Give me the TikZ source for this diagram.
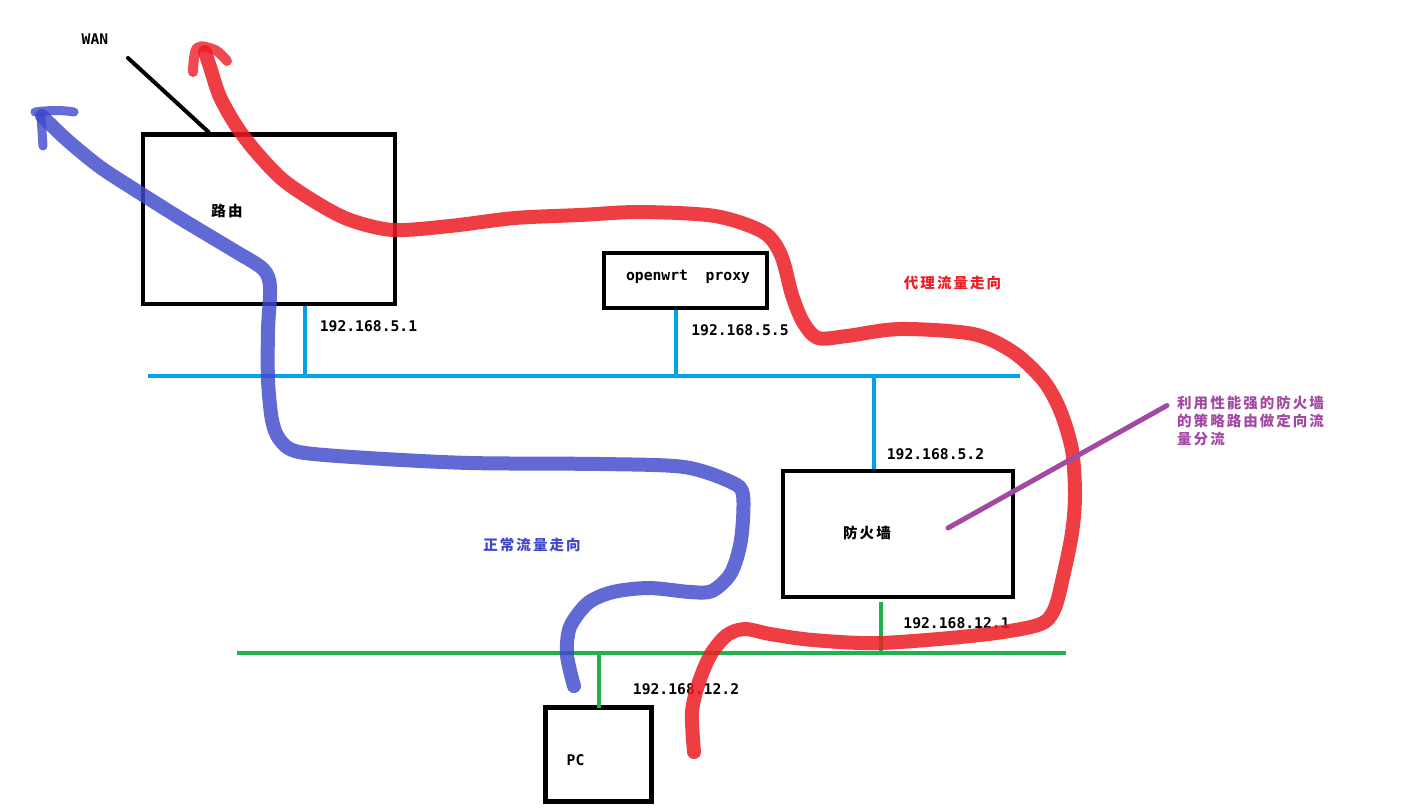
\documentclass[tikz,border=0pt]{standalone}
\usepackage{fontspec}
\setmonofont{DejaVu Sans Mono}
\newfontfamily\cjk[LetterSpace=14]{Noto Sans CJK SC}
\definecolor{lanblue}{RGB}{0,162,232}
\definecolor{langreen}{RGB}{34,177,76}
\definecolor{flowred}{RGB}{237,28,36}
\definecolor{flowblue}{RGB}{63,72,204}
\definecolor{notepurple}{RGB}{163,73,164}
\tikzset{
  box/.style={draw=black, line width=4.5pt, inner sep=0pt},
  ip/.style={font={\fontsize{14.7}{17}\selectfont\ttfamily\bfseries}, inner sep=0pt},
  cn/.style={font={\fontsize{14.5}{17.7}\selectfont\cjk\bfseries}, inner sep=0pt},
  lanA/.style={draw=lanblue, line width=4pt},
  lanB/.style={draw=langreen, line width=4pt},
  redflow/.style={draw=flowred, line width=14pt, line cap=round, line join=round, opacity=0.85},
  blueflow/.style={draw=flowblue, line width=14pt, line cap=round, line join=round, opacity=0.82},
  redtip/.style={draw=flowred, line width=10pt, line cap=round, line join=round, opacity=0.8},
  bluetip/.style={draw=flowblue, line width=9pt, line cap=round, line join=round, opacity=0.8},
}
\begin{document}
\begin{tikzpicture}[x=1pt,y=-1pt]
\useasboundingbox[fill=white] (0,0) rectangle (1420,811);

% boxes
\node[box, minimum width=252pt, minimum height=169.5pt] (router) at (269,219.25) {};
\node[box, minimum width=163pt, minimum height=55pt] (proxy) at (685.5,280.5) {};
\node[box, minimum width=230pt, minimum height=126pt] (fw) at (898,534) {};
\node[box, minimum width=106pt, minimum height=94pt] (pc) at (598.5,754.5) {};

% box texts
\node[cn] (routert) at (227,211) {路由};
\node[ip] (proxyt) at (688,277) {openwrt\ \ proxy};
\node[cn] (fwt) at (867,533) {防火墙};
\node[ip] (pct) at (575.5,760) {PC};

% WAN
\node[ip] (wan) at (95,39) {WAN};
\coordinate (wanend) at (128,58);
\coordinate (wanbox) at (208.5,132);
\draw[line width=4pt, line cap=round] (wanend) -- (wanbox);

% LAN 192.168.5.x
\coordinate (lanAl) at (148,376);
\coordinate (lanAr) at (1020,376);
\draw[lanA] (lanAl) -- (lanAr);
\coordinate (dropR) at (305,376);
\coordinate (dropP) at (676,376);
\coordinate (dropF) at (873.5,376);
\draw[lanA] (dropR) -- (router.south -| dropR);
\draw[lanA] (dropP) -- (proxy.south -| dropP);
\draw[lanA] (dropF) -- (fw.north -| dropF);

% LAN 192.168.12.x
\coordinate (lanBl) at (237,652.5);
\coordinate (lanBr) at (1066,652.5);
\draw[lanB] (lanBl) -- (lanBr);
\coordinate (dropF2) at (881,652.5);
\coordinate (dropPC) at (599,652.5);
\draw[lanB] (dropF2) -- ([yshift=-3pt]fw.south -| dropF2);
\draw[lanB] (dropPC) -- ([yshift=-3pt]pc.north -| dropPC);

% IP labels
\node[ip] (ipr) at (368.5,326.5) {192.168.5.1};
\node[ip] (ipp) at (740,330) {192.168.5.5};
\node[ip] (ipf) at (935.5,454) {192.168.5.2};
\node[ip] (ipf2) at (956.5,623) {192.168.12.1};
\node[ip] (ippc) at (686,689.5) {192.168.12.2};

% flow labels
\node[cn, text=flowred] (redlbl) at (952.5,283) {代理流量走向};
\node[cn, text=flowblue] (bluelbl) at (532,545) {正常流量走向};

% red flow (proxy traffic)
\draw[redflow] plot[smooth, tension=0.5] coordinates {
 (694,752) (692,712) (699,682) (711,654) (727,635) (745,629) (770,634) (813,640)
 (880,643) (980,635) (1038,625) (1054,610) (1063,577) (1072,533) (1075,495)
 (1072,450) (1060,410) (1043,380) (1013,352) (973,334) (900,329) (847,336)
 (818,338) (803,322) (792,295) (781,255) (763,232) (715,216) (640,212)
 (580,215) (515,218) (450,226) (393,230) (350,220) (317,203) (283,180)
 (257,153) (237,127) (220,97) (210,67) (205,52)};
\draw[redtip] plot[smooth, tension=0.6] coordinates {(193,72) (197,48) (215,50) (227,61)};

% blue flow (normal traffic)
\draw[blueflow] plot[smooth, tension=0.5] coordinates {
 (574,686) (567,655) (570,627) (588,603) (613,592) (649,588) (690,592)
 (712,591) (731,573) (741,540) (743,495) (731,482) (684,467) (600,464)
 (470,463) (368,458) (299,452) (280,440) (272,420) (268,380) (268,330)
 (270,287) (263,269) (233,250) (183,220) (140,193) (100,167) (67,140) (42,116)};
\draw[bluetip] (35,112) .. controls (50,110) and (62,110) .. (74,112);
\draw[bluetip] (41,116) -- (43,146);

% annotation
\node[cn, text=notepurple, align=left, anchor=north west] (note) at (1177,396)
  {利用性能强的防火墙\\的策略路由做定向流\\量分流};
\coordinate (fwpt) at (948,528);
\coordinate (noteend) at (1167,405.5);
\draw[draw=notepurple, line width=5pt, line cap=round] (fwpt) -- (noteend);
\end{tikzpicture}
\end{document}
